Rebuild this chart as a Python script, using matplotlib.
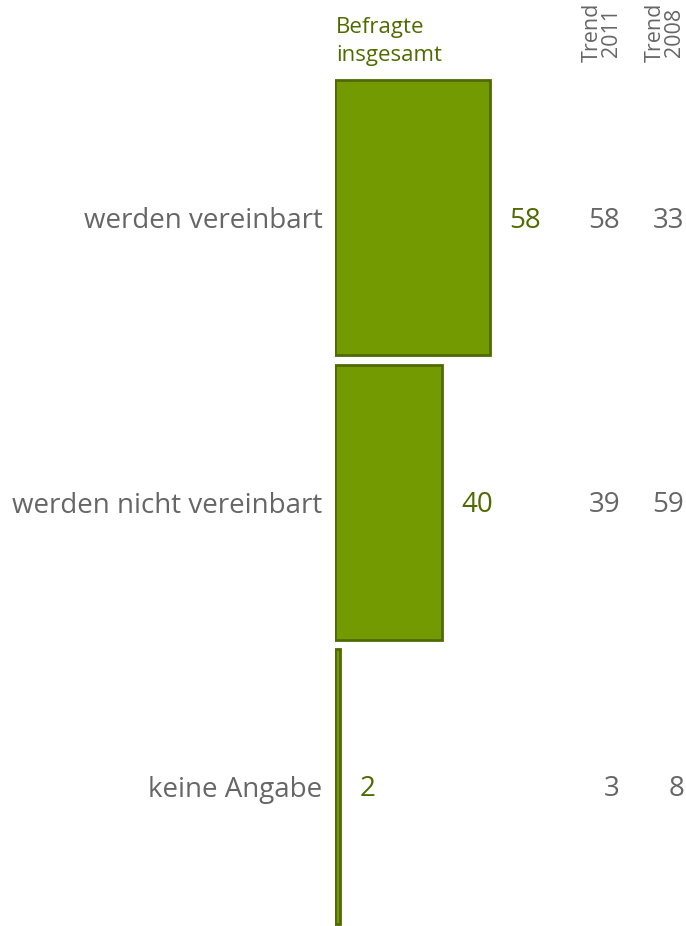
import matplotlib
matplotlib.use("Agg")
import matplotlib.pyplot as plt
from matplotlib.transforms import blended_transform_factory, ScaledTranslation

# Antworten und Anteile in Prozent
kategorien = ["werden vereinbart", "werden nicht vereinbart", "keine Angabe"]
insgesamt = [58, 40, 2]
trend_2011 = [58, 39, 3]
trend_2008 = [33, 59, 8]

gruen = "#739a00"
gruen_rand = "#4e6a00"
gruen_text = "#4f6b00"
grau = "#666666"

plt.rcParams["font.family"] = ["Open Sans", "DejaVu Sans"]

W, H = 686, 926
fig = plt.figure(figsize=(W / 100, H / 100), dpi=100)

# Achse so legen, dass 0 bei x=335 px liegt, 1 Prozent ~ 2.67 px
links = 335
px_pro_einheit = 155 / 58
ax = fig.add_axes([links / W, 0, 100 * px_pro_einheit / W, 850.4 / H])
ax.set_xlim(0, 100)
ax.set_ylim(2.49, -0.5)

y = list(range(len(kategorien)))
ax.barh(y, insgesamt, height=0.968, color=gruen, edgecolor=gruen_rand, linewidth=2)

dy = 0.01
for yi, wert in zip(y, insgesamt):
    ax.text(wert + 19 / px_pro_einheit, yi + dy, str(wert), color=gruen_text,
            fontsize=20, va="center", ha="left")

ax.set_yticks(y)
ax.set_yticklabels(kategorien, fontsize=20, color=grau)
runter = ScaledTranslation(0, -2 / 100, fig.dpi_scale_trans)
for lbl in ax.get_yticklabels():
    lbl.set_transform(lbl.get_transform() + runter)
ax.tick_params(axis="y", length=0, pad=9)
ax.set_xticks([])
for s in ax.spines.values():
    s.set_visible(False)

# Trendspalten rechts
tr = blended_transform_factory(fig.transFigure, ax.transData)
for yi, a, b in zip(y, trend_2011, trend_2008):
    ax.text(620 / W, yi + dy, str(a), transform=tr, color=grau, fontsize=20,
            va="center", ha="right")
    ax.text(684 / W, yi + dy, str(b), transform=tr, color=grau, fontsize=20,
            va="center", ha="right")

# Kopfzeilen
fig.text(336 / W, 1 - 17 / H, "Befragte\ninsgesamt", color=gruen_text,
         fontsize=16, ha="left", va="top", linespacing=1.45)
fig.text(602 / W, 1 - 3 / H, "Trend\n2011", color=grau, fontsize=15.5,
         rotation=90, ha="center", va="top", linespacing=0.85)
fig.text(665 / W, 1 - 3 / H, "Trend\n2008", color=grau, fontsize=15.5,
         rotation=90, ha="center", va="top", linespacing=0.85)

fig.savefig("out.png", dpi=100)
